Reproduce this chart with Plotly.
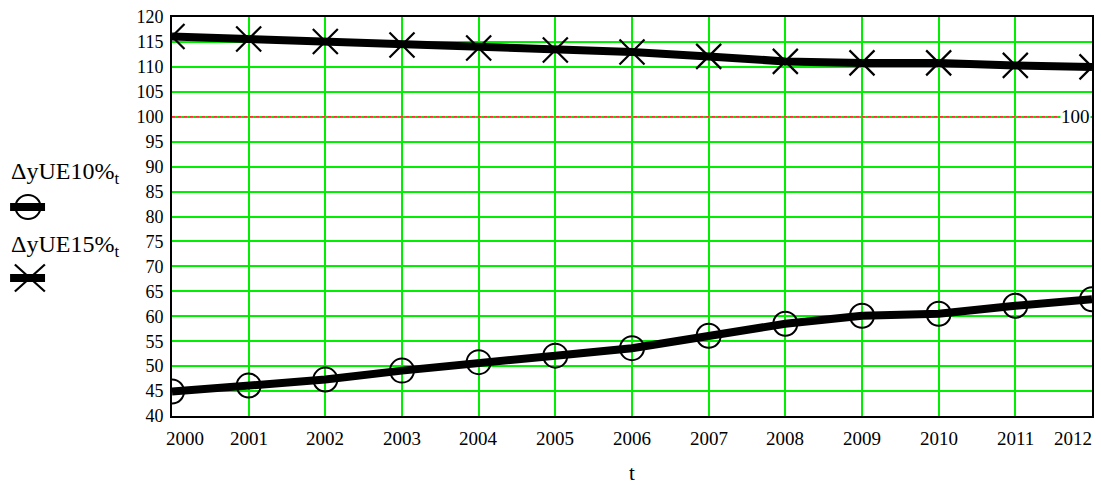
import plotly.graph_objects as go

years = list(range(2000, 2013))
y_ue10 = [44.9, 46.1, 47.3, 49.1, 50.8, 52.1, 53.6, 56.1, 58.5, 60.1, 60.5, 62.1, 63.4]
y_ue15 = [116.1, 115.6, 115.1, 114.4, 113.8, 113.4, 113.0, 112.1, 111.1, 110.8, 110.8, 110.3, 110.0]
ref_value = 100
y_ticks = list(range(40, 125, 5))
series_names = ["ΔyUE10%<sub>t</sub>", "ΔyUE15%<sub>t</sub>"]

FONT = "Liberation Serif"
GREEN = "#00ee00"

fig = go.Figure()

fig.add_trace(go.Scatter(
    x=years, y=y_ue10, mode="lines+markers",
    line=dict(color="black", width=8),
    marker=dict(symbol="circle-open", size=24, color="black", line=dict(width=2)),
    cliponaxis=True, showlegend=False))
fig.add_trace(go.Scatter(
    x=years, y=y_ue15, mode="lines+markers",
    line=dict(color="black", width=8),
    marker=dict(symbol="x-thin-open", size=25, color="black", line=dict(width=2.2)),
    cliponaxis=True, showlegend=False))

# reference line at 100
fig.add_shape(type="line", xref="x", yref="y", x0=years[0], x1=years[-1] - 0.43,
              y0=ref_value, y1=ref_value, line=dict(color="#ff3030", width=1.5, dash="dot"),
              layer="above")
fig.add_annotation(x=years[-1], y=ref_value, xref="x", yref="y", text=str(ref_value),
                   showarrow=False, xanchor="right", yanchor="middle", xshift=-1,
                   bgcolor="white", borderpad=0,
                   font=dict(family=FONT, size=19, color="black"))

# x tick labels as annotations (Mathcad-style edge shifting)
for i, yr in enumerate(years):
    shift = 0
    if i == 0:
        shift = 13
    elif i == len(years) - 1:
        shift = -19
    fig.add_annotation(x=yr, y=0, xref="x", yref="paper", text=str(yr), showarrow=False,
                       yanchor="top", yshift=-10, xshift=shift,
                       font=dict(family=FONT, size=19, color="black"))

# axis title
fig.add_annotation(x=0.5, y=0, xref="paper", yref="paper", text="t", showarrow=False,
                   yanchor="middle", yshift=-57, font=dict(family=FONT, size=21, color="black"))

# custom legend (text above symbol)
leg_text_y = [0.609, 0.427]
leg_sym_y = [0.524, 0.346]
leg_sym_x = [-0.1565, -0.1545]
for k in range(2):
    fig.add_annotation(x=-0.177, y=leg_text_y[k], xref="paper", yref="paper",
                       text=series_names[k], showarrow=False, xanchor="left", yanchor="middle",
                       font=dict(family=FONT, size=24, color="black"))
    fig.add_shape(type="line", xref="paper", yref="paper", x0=-0.176, x1=-0.138,
                  y0=leg_sym_y[k], y1=leg_sym_y[k], line=dict(color="black", width=8))
fig.add_shape(type="circle", xref="paper", yref="paper", xsizemode="pixel", ysizemode="pixel",
              xanchor=leg_sym_x[0], yanchor=leg_sym_y[0], x0=-12.5, x1=12.5, y0=-12, y1=12,
              line=dict(color="black", width=2))
for sgn in (1, -1):
    fig.add_shape(type="line", xref="paper", yref="paper", xsizemode="pixel", ysizemode="pixel",
                  xanchor=leg_sym_x[1], yanchor=leg_sym_y[1], x0=-15, x1=15, y0=-13.5 * sgn,
                  y1=13.5 * sgn, line=dict(color="black", width=2.2))

fig.update_layout(
    width=1101, height=484,
    margin=dict(l=172, r=9, t=17, b=68, autoexpand=False),
    paper_bgcolor="white", plot_bgcolor="white",
    font=dict(family=FONT, size=18, color="black"),
    xaxis=dict(range=[years[0], years[-1]], tickvals=years, showticklabels=False,
               showgrid=True, gridcolor=GREEN, gridwidth=2, zeroline=False, automargin=False,
               showline=True, linecolor="black", linewidth=2, mirror=True, ticks=""),
    yaxis=dict(range=[40, 120], tickvals=y_ticks, showgrid=True, gridcolor=GREEN, gridwidth=2,
               zeroline=False, showline=True, linecolor="black", linewidth=2, mirror=True,
               automargin=False, ticks="", ticklabelstandoff=3,
               tickfont=dict(family=FONT, size=18)),
)

fig.write_html("out.html", config={"displayModeBar": False},
               post_script="document.body.style.margin='0';")
